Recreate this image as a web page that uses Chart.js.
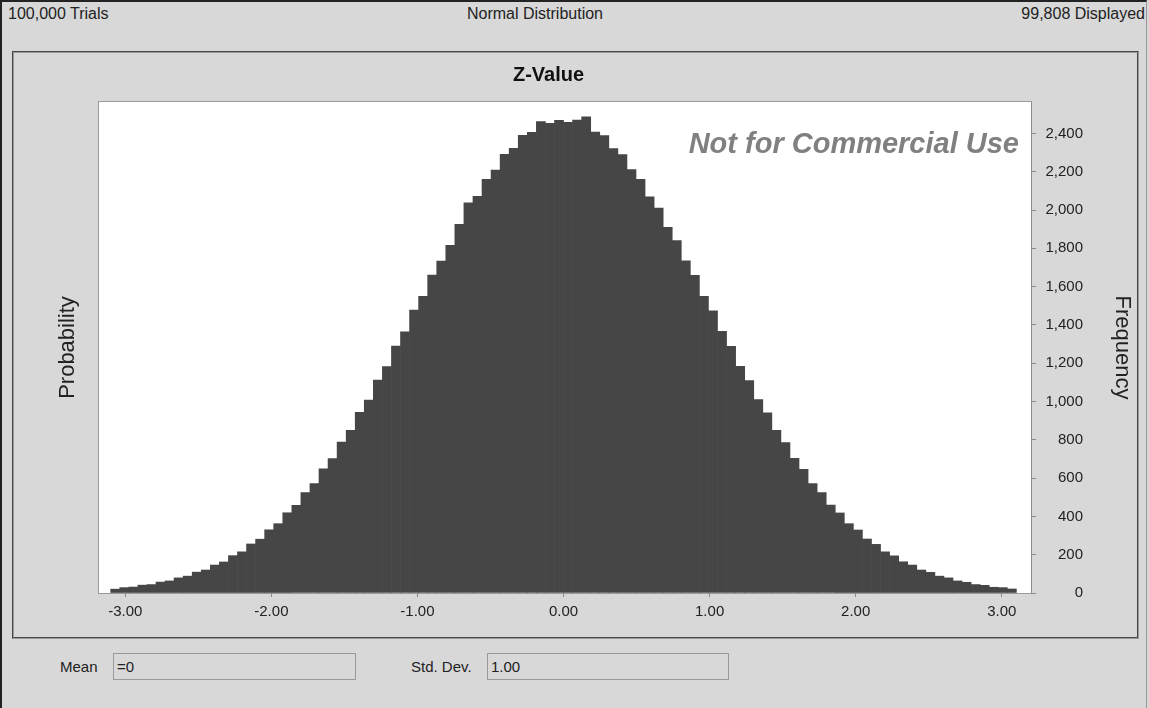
<!DOCTYPE html>
<html>
<head>
<meta charset="utf-8">
<script src="https://cdn.jsdelivr.net/npm/chart.js@4/dist/chart.umd.min.js"></script>
<style>
  html, body { margin: 0; padding: 0; }
  body {
    width: 1149px; height: 708px; position: relative; overflow: hidden;
    background: #d8d8d8; font-family: "Liberation Sans", Arial, sans-serif; color: #222;
  }
  #frame {
    position: absolute; left: 0; top: 0; width: 1147px; height: 708px;
    border-top: 2px solid #222; border-left: 2px solid #222;
    border-right: 1px solid #999; box-sizing: border-box;
  }
  #panel {
    position: absolute; left: 12px; top: 51px; width: 1127px; height: 588px;
    border: 2px groove #9a9a9a; box-sizing: border-box;
  }
  .head { position: absolute; top: 5px; font-size: 16px; line-height: 18px; }
  .lbl { position: absolute; font-size: 15px; line-height: 18px; top: 658px; }
  .box {
    position: absolute; top: 653px; height: 27px; box-sizing: border-box;
    border: 1px solid #9a9a9a; font-size: 15px; line-height: 25px; padding-left: 3px;
  }
  #wrap { position: absolute; left: 0; top: 0; width: 1149px; height: 708px; }
</style>
</head>
<body>
<div id="frame"></div>
<div id="panel"></div>
<div class="head" style="left:8px">100,000 Trials</div>
<div class="head" style="left:0;width:1070px;text-align:center">Normal Distribution</div>
<div class="head" style="right:4px">99,808 Displayed</div>
<div class="lbl" style="left:60px">Mean</div>
<div class="box" style="left:113px;width:243px">=0</div>
<div class="lbl" style="left:411px">Std. Dev.</div>
<div class="box" style="left:487px;width:242px">1.00</div>
<div id="wrap"><canvas id="chart" width="1149" height="708"></canvas></div>
<script>
// histogram bins: 100 bins of width 0.062 from -3.10 to 3.10
const binStart = -3.10;
const binWidth = 0.062;
const counts = [
  20, 28, 31, 41, 44, 57, 63, 79, 88, 109,
  120, 146, 162, 195, 215, 256, 281, 330, 362, 419,
  458, 525, 571, 648, 702, 788, 849, 944, 1008, 1112,
  1183, 1290, 1364, 1478, 1549, 1660, 1733, 1815, 1925, 2038,
  2071, 2160, 2208, 2291, 2322, 2390, 2405, 2462, 2452, 2468,
  2458, 2470, 2486, 2407, 2388, 2321, 2289, 2211, 2160, 2069,
  2010, 1909, 1840, 1735, 1659, 1549, 1473, 1366, 1288, 1184,
  1109, 1010, 941, 850, 786, 703, 646, 572, 524, 459,
  418, 362, 329, 282, 254, 215, 194, 163, 146, 120,
  108, 88, 79, 63, 56, 44, 40, 30, 28, 21
];
const xTicks = [-3, -2, -1, 0, 1, 2, 3];
const yTicks = [0, 200, 400, 600, 800, 1000, 1200, 1400, 1600, 1800, 2000, 2200, 2400];

const points = counts.map((c, i) => ({ x: binStart + binWidth * (i + 0.5), y: c }));

const fontFamily = '"Liberation Sans", Arial, sans-serif';
const labelFont = { family: fontFamily, size: 15 };

// white plot area, watermark and the right-hand axis title
const plotExtras = {
  id: 'plotExtras',
  beforeDraw(chart) {
    const { ctx, chartArea: a } = chart;
    ctx.save();
    ctx.fillStyle = '#ffffff';
    ctx.fillRect(a.left, a.top, a.right - a.left, a.bottom - a.top);
    ctx.strokeStyle = '#9a9a9a';
    ctx.lineWidth = 1;
    ctx.strokeRect(a.left - 0.5, a.top - 0.5, a.right - a.left + 1, a.bottom - a.top + 1);
    ctx.restore();
  },
  afterDatasetsDraw(chart) {
    const { ctx, chartArea: a } = chart;
    ctx.save();
    ctx.font = 'italic bold 29px ' + fontFamily;
    ctx.fillStyle = '#808080';
    ctx.textAlign = 'right';
    ctx.textBaseline = 'middle';
    ctx.fillText('Not for Commercial Use', a.right - 12, a.top + 43);
    ctx.restore();
  },
  afterDraw(chart) {
    const { ctx, chartArea: a } = chart;
    ctx.save();
    ctx.translate(1122, (a.top + a.bottom) / 2);
    ctx.rotate(Math.PI / 2);
    ctx.font = '22px ' + fontFamily;
    ctx.fillStyle = '#222';
    ctx.textAlign = 'center';
    ctx.textBaseline = 'middle';
    ctx.fillText('Frequency', 0, 0);
    ctx.restore();
  }
};

const ctx = document.getElementById('chart').getContext('2d');
const chart = new Chart(ctx, {
  type: 'bar',
  data: {
    datasets: [{
      data: points,
      backgroundColor: '#464646',
      borderWidth: 0,
      barPercentage: 1,
      categoryPercentage: 1,
      yAxisID: 'y'
    }]
  },
  options: {
    responsive: false,
    animation: false,
    layout: { padding: { left: 14, right: 66, top: 53, bottom: 70 } },
    plugins: {
      legend: { display: false },
      tooltip: { enabled: false },
      title: {
        display: true,
        text: 'Z-Value',
        color: '#111',
        font: { family: fontFamily, size: 20, weight: 'bold' },
        padding: { top: 10, bottom: 15 }
      }
    },
    scales: {
      x: {
        type: 'linear',
        min: -3.18,
        max: 3.20,
        offset: false,
        grid: { display: true, drawOnChartArea: false, offset: false, tickLength: 4, color: '#8a8a8a' },
        border: { display: false },
        ticks: {
          color: '#222',
          font: labelFont,
          padding: 6,
          maxRotation: 0,
          callback: v => v.toFixed(2)
        },
        afterBuildTicks: s => { s.ticks = xTicks.map(v => ({ value: v })); },
        afterFit: s => { s.height = 45; }
      },
      y: {
        position: 'right',
        min: 0,
        max: 2564,
        grid: { display: true, drawOnChartArea: false, tickLength: 5, color: '#8a8a8a' },
        border: { display: true, color: '#8a8a8a' },
        ticks: {
          color: '#222',
          font: labelFont,
          padding: 8,
          crossAlign: 'far',
          callback: v => v.toLocaleString('en-US')
        },
        afterBuildTicks: s => { s.ticks = yTicks.map(v => ({ value: v })); },
        afterFit: s => { s.width = 52; }
      },
      yL: {
        position: 'left',
        min: 0,
        max: 1,
        grid: { display: false },
        border: { display: false },
        ticks: { display: false },
        title: {
          display: true,
          text: 'Probability',
          color: '#222',
          font: { family: fontFamily, size: 22 },
          padding: { top: 41, bottom: 0 }
        },
        afterFit: s => { s.width = 85; }
      }
    }
  },
  plugins: [plotExtras]
});
</script>
</body>
</html>
